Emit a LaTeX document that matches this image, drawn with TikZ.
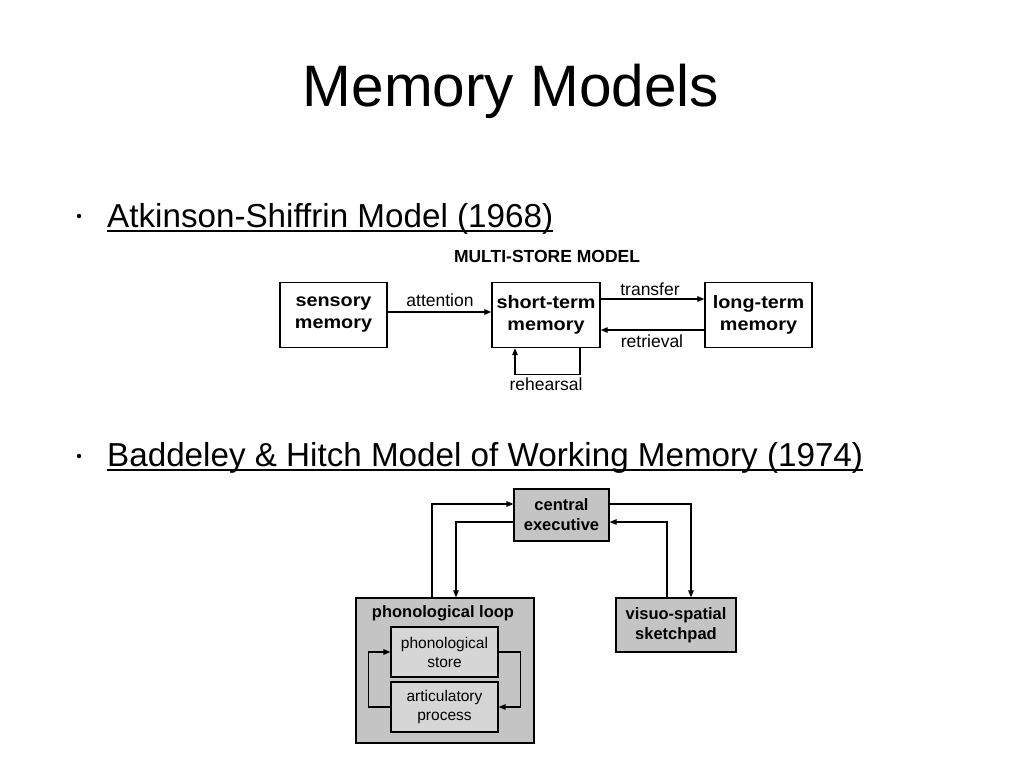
\documentclass[tikz,border=0pt]{standalone}
\usepackage{fontspec}
\setmainfont{Liberation Sans}
\newfontfamily\widefont[FakeStretch=1.1]{Liberation Sans}
\usetikzlibrary{arrows.meta}
\definecolor{outergray}{RGB}{196,196,196}
\definecolor{innergray}{RGB}{214,214,214}
\newcommand{\fsz}[2]{\fontsize{#1}{#2}\selectfont}
\begin{document}
\begin{tikzpicture}[x=1pt,y=-1pt,
  boxA/.style={draw=black,line width=1.4pt,inner sep=0pt,align=center,font=\widefont\bfseries\fsz{18}{22}},
  boxB/.style={draw=black,line width=1.2pt,fill=outergray,inner sep=0pt,align=center,font=\bfseries\fsz{16.5}{20}},
  boxC/.style={draw=black,line width=1.2pt,fill=innergray,inner sep=0pt,align=center,font=\fsz{15.5}{19}},
  lbl/.style={inner sep=0pt,anchor=base,font=\fsz{17.5}{20}},
  arr/.style={line width=1.3pt,-{Triangle[length=7pt,width=5.5pt]}},
  bullettext/.style={inner sep=0pt,anchor=base west,font=\fsz{33.2}{40}},
  ul/.style={line width=1.8pt},
  dot/.style={circle,fill=black,inner sep=0pt,minimum size=4.5pt}
]
\useasboundingbox[fill=white] (0,0) rectangle (1024,768);

% title
\node[inner sep=0pt,anchor=base,font=\fsz{58.5}{66}] (title) at (511,106) {Memory Models};

% bullet 1
\node[dot] (d1) at (79,216) {};
\node[bullettext] (b1) at (107,227) {Atkinson-Shiffrin Model (1968)};
\draw[ul] ([yshift=-4pt]b1.base west) -- ([yshift=-4pt]b1.base east);

% bullet 2
\node[dot] (d2) at (79,456) {};
\node[bullettext] (b2) at (107,466) {Baddeley \& Hitch Model of Working Memory (1974)};
\draw[ul] ([yshift=-4pt]b2.base west) -- ([yshift=-4pt]b2.base east);

% multi-store model
\node[inner sep=0pt,anchor=base,font=\bfseries\fsz{17.5}{20}] (mst) at (547,262) {MULTI-STORE MODEL};
\node[boxA,minimum width=107pt,minimum height=65pt] (sens) at (333.5,315) {sensory\\memory};
\node[boxA,minimum width=108pt,minimum height=65pt] (stm) at (546,315) {short-term\\memory};
\node[boxA,minimum width=107pt,minimum height=65pt] (ltm) at (758.5,315) {long-term\\memory};

\draw[arr] ([yshift=3pt]sens.east) -- ([yshift=3pt]stm.west);
\draw[arr] ([yshift=16pt]stm.east) -- ([yshift=16pt]ltm.west);
\draw[arr] ([yshift=-15pt]ltm.west) -- ([yshift=-15pt]stm.east);
\draw[arr] ([xshift=34pt]stm.south) -- ++(0,26) -| ([xshift=-31pt]stm.south);

\node[lbl] (lat) at (440,306.5) {attention};
\node[lbl] (ltr) at (650,295) {transfer};
\node[lbl] (lre) at (652,347.5) {retrieval};
\node[lbl] (lrh) at (546,390.5) {rehearsal};

% working memory model
\node[boxB,minimum width=95pt,minimum height=52pt] (ce) at (561.5,515) {central\\executive};
\node[boxB,minimum width=178pt,minimum height=145pt] (pl) at (445,670.5) {};
\node[inner sep=0pt,anchor=base,font=\bfseries\fsz{16.5}{20}] (plt) at (443,617) {phonological loop};
\node[boxB,minimum width=120pt,minimum height=54pt] (vs) at (676,625) {visuo-spatial\\sketchpad};
\node[boxC,minimum width=107pt,minimum height=50pt] (ps) at (444.5,652) {phonological\\store};
\node[boxC,minimum width=107pt,minimum height=50pt] (ap) at (444.5,707) {articulatory\\process};

\draw[arr] ([xshift=-13pt]pl.north) |- ([yshift=11pt]ce.west);
\draw[arr] ([yshift=-7pt]ce.west) -| ([xshift=11pt]pl.north);
\draw[arr] ([yshift=11pt]ce.east) -| ([xshift=15pt]vs.north);
\draw[arr] ([xshift=-9pt]vs.north) |- ([yshift=-7pt]ce.east);
\draw[arr] (ps.east) -- ++(22,0) |- (ap.east);
\draw[arr] (ap.west) -- ++(-22,0) |- (ps.west);
\end{tikzpicture}
\end{document}
